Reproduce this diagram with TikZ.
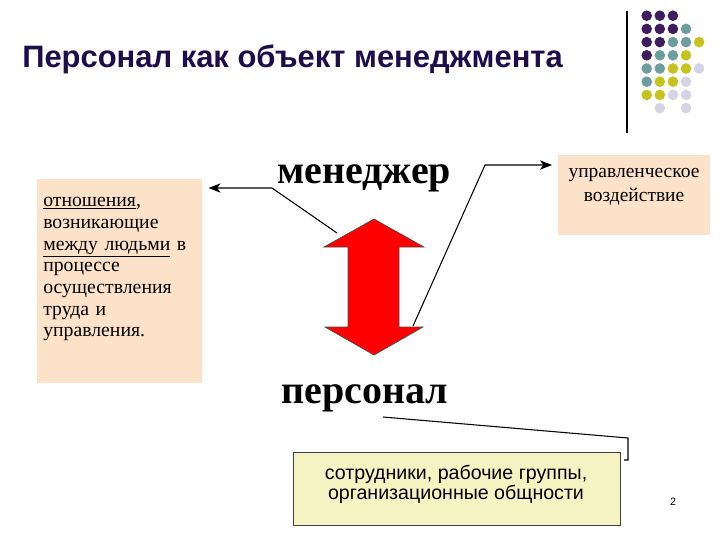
\documentclass[tikz,border=0pt]{standalone}
\usepackage{fontspec}
\setmainfont{Liberation Serif}
\setsansfont{Liberation Sans}
\usetikzlibrary{arrows.meta}
\definecolor{peach}{HTML}{FCE2C8}
\definecolor{paleyel}{HTML}{F6F3C2}
\definecolor{dpurple}{HTML}{3E1D5E}
\definecolor{dteal}{HTML}{6E9D9F}
\definecolor{dyel}{HTML}{C8C21E}
\definecolor{dlav}{HTML}{D4D4E4}
\definecolor{redarrow}{HTML}{FF0000}
\definecolor{titlecol}{HTML}{1E0D4C}
\tikzset{
  conn/.style={draw=black, line width=0.8pt},
  tip/.style={-{Stealth[length=9pt,width=7pt,inset=2.5pt]}},
  dotP/.style={fill=dpurple}, dotT/.style={fill=dteal},
  dotY/.style={fill=dyel}, dotL/.style={fill=dlav},
  boxpeach/.style={fill=peach, draw=none, inner sep=0pt},
  bigword/.style={inner sep=0pt, anchor=base, font=\bfseries\fontsize{30pt}{33pt}\selectfont},
}
\begin{document}
\begin{tikzpicture}[x=0.75pt,y=-0.75pt]
\useasboundingbox (0,0) rectangle (720,540);
% title
\node[anchor=base west, inner sep=0pt, text=titlecol, font=\sffamily\bfseries\fontsize{23.2pt}{27pt}\selectfont] (title) at (22,67) {Персонал как объект менеджмента};
% vertical rule
\draw[line width=1pt] (627,11) -- (627,133);
% dots
\foreach \r/\c/\s in {0/0/P,0/1/P,0/2/P,
  1/0/P,1/1/P,1/2/P,1/3/T,
  2/0/P,2/1/P,2/2/T,2/3/T,2/4/Y,
  3/0/P,3/1/T,3/2/T,3/3/Y,
  4/0/T,4/1/T,4/2/Y,4/3/Y,4/4/L,
  5/0/T,5/1/Y,5/2/Y,5/3/L,
  6/0/Y,6/1/Y,6/2/L,6/3/L,
  7/1/L,7/3/L}
  \fill[dot\s] ({646.7+13.1*\c},{15.7+13.2*\r}) circle (5.3);
% left box
\node[boxpeach, anchor=north west, minimum width=123.75pt, minimum height=153pt] (lbox) at (37,179) {};
\node[anchor=north west, inner sep=0pt, text width=120pt, align=left,
  font=\fontsize{14.8pt}{16.3pt}\selectfont] (ltext) at (43,197)
  {\underline{отношения},\\ возникающие\\ \underline{между людьми} в\\ процессе\\ осуществления\\ труда и\\ управления.};
% right box
\node[boxpeach, anchor=north west, minimum width=114pt, minimum height=60pt] (rbox) at (558,155) {};
\node[align=center, inner sep=0pt, font=\fontsize{14.6pt}{18pt}\selectfont] (rtext) at (634,187) {управленческое\\ воздействие};
% bottom box
\node[fill=paleyel, draw=black!75, line width=0.8pt, anchor=north west, minimum width=245pt, minimum height=55pt, inner sep=0pt] (bbox) at (293,452) {};
\node[align=center, inner sep=0pt, font=\sffamily\fontsize{14.7pt}{15.2pt}\selectfont] (btext) at (456,484) {сотрудники, рабочие группы,\\ организационные общности};
% big words
\node[bigword] (mgr) at (364,183) {менеджер};
\node[bigword] (pers) at (365,403) {персонал};
% red double arrow
\filldraw[fill=redarrow, draw=black!70, line width=0.5pt]
  (374,219) -- (424,247) -- (399,247) -- (399,327) -- (423,327) -- (374,355)
  -- (325,327) -- (348,327) -- (348,247) -- (324,247) -- cycle;
% connectors
\coordinate (a1) at (337,233);
\coordinate (a2) at (272,188);
\draw[conn,tip] (a1) -- (a2) -- ([xshift=4.5pt]lbox.east |- a2);
\coordinate (b1) at (413,326);
\coordinate (b2) at (485,165);
\draw[conn,tip] (b1) -- (b2) -- ([xshift=-4.5pt]rbox.west |- b2);
\coordinate (c1) at (383,417);
\coordinate (c2) at (628,438);
\coordinate (c3) at (628,460);
\draw[conn] (c1) -- (c2) -- (c3) -- ++(-4,0);
% page number
\node[font=\sffamily\fontsize{8pt}{9pt}\selectfont, inner sep=0pt] (pg) at (673,502) {2};
\end{tikzpicture}
\end{document}
